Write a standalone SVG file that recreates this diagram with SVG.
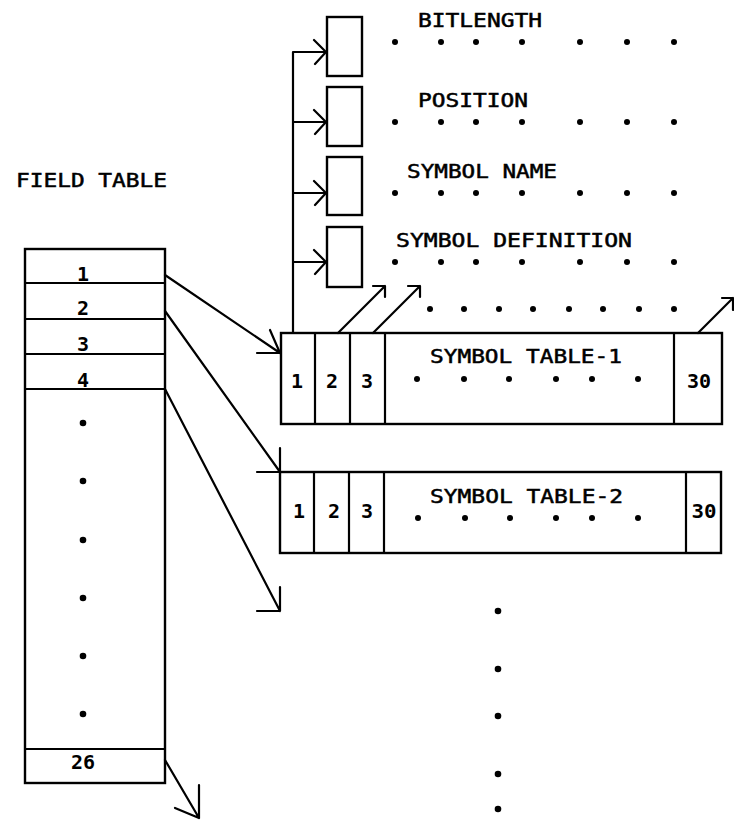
<svg xmlns="http://www.w3.org/2000/svg" width="734" height="821" viewBox="0 0 734 821">
<style>
.ln{fill:none;stroke:#000;stroke-width:2.2;stroke-linecap:round;stroke-linejoin:round}
.bx{fill:#fff;stroke:#000;stroke-width:2.4}
.t{font-family:"DejaVu Sans Mono","Liberation Mono",monospace;font-size:19px;fill:#000;stroke:#000;stroke-width:0.5}
.n{font-family:"DejaVu Sans Mono","Liberation Mono",monospace;font-size:20px;font-weight:bold;fill:#000;text-anchor:middle}
.d{fill:#000}
</style>
<rect width="734" height="821" fill="#fff"/>

<g id="field-table">
<text class="t" x="16" y="187" textLength="151" lengthAdjust="spacingAndGlyphs">FIELD TABLE</text>
<rect class="bx" x="25" y="249" width="140" height="534"/>
<path class="ln" d="M25 283H165M25 319H165M25 354H165M25 389H165M25 749H165"/>
<text class="n" x="83" y="281">1</text>
<text class="n" x="83" y="315">2</text>
<text class="n" x="83" y="351">3</text>
<text class="n" x="83" y="387">4</text>
<text class="n" x="83" y="769">26</text>
<circle class="d" cx="83" cy="423" r="3.3"/>
<circle class="d" cx="83" cy="481" r="3.3"/>
<circle class="d" cx="83" cy="540" r="3.3"/>
<circle class="d" cx="83" cy="598" r="3.3"/>
<circle class="d" cx="83" cy="656" r="3.3"/>
<circle class="d" cx="83" cy="714" r="3.3"/>
</g>

<g id="field-box-1">
<rect class="bx" x="327" y="17" width="35" height="59"/>
<text class="t" x="418" y="27" textLength="124" lengthAdjust="spacingAndGlyphs">BITLENGTH</text>
<g class="d"><circle cx="395" cy="42" r="3"/><circle cx="441" cy="42" r="3"/><circle cx="476" cy="42" r="3"/><circle cx="522" cy="42" r="3"/><circle cx="580" cy="42" r="3"/><circle cx="627" cy="42" r="3"/><circle cx="674" cy="42" r="3"/></g>
</g>
<g id="field-box-2">
<rect class="bx" x="327" y="87" width="35" height="59"/>
<text class="t" x="418" y="107" textLength="110" lengthAdjust="spacingAndGlyphs">POSITION</text>
<g class="d"><circle cx="395" cy="122" r="3"/><circle cx="441" cy="122" r="3"/><circle cx="476" cy="122" r="3"/><circle cx="522" cy="122" r="3"/><circle cx="580" cy="122" r="3"/><circle cx="627" cy="122" r="3"/><circle cx="674" cy="122" r="3"/></g>
</g>
<g id="field-box-3">
<rect class="bx" x="327" y="157" width="35" height="58"/>
<text class="t" x="407" y="178" textLength="150" lengthAdjust="spacingAndGlyphs">SYMBOL NAME</text>
<g class="d"><circle cx="395" cy="193" r="3"/><circle cx="441" cy="193" r="3"/><circle cx="476" cy="193" r="3"/><circle cx="522" cy="193" r="3"/><circle cx="580" cy="193" r="3"/><circle cx="627" cy="193" r="3"/><circle cx="674" cy="193" r="3"/></g>
</g>
<g id="field-box-4">
<rect class="bx" x="327" y="227" width="35" height="60"/>
<text class="t" x="396" y="247" textLength="236" lengthAdjust="spacingAndGlyphs">SYMBOL DEFINITION</text>
<g class="d"><circle cx="395" cy="262" r="3"/><circle cx="441" cy="262" r="3"/><circle cx="476" cy="262" r="3"/><circle cx="522" cy="262" r="3"/><circle cx="580" cy="262" r="3"/><circle cx="627" cy="262" r="3"/><circle cx="674" cy="262" r="3"/></g>
</g>
<g id="field-dots">
<g class="d"><circle cx="430" cy="309" r="3"/><circle cx="464" cy="309" r="3"/><circle cx="499" cy="309" r="3"/><circle cx="533" cy="309" r="3"/><circle cx="569" cy="309" r="3"/><circle cx="603" cy="309" r="3"/><circle cx="639" cy="309" r="3"/><circle cx="674" cy="309" r="3"/></g>
</g>

<g id="symbol-table-1">
<rect class="bx" x="281" y="333" width="441" height="91"/>
<path class="ln" d="M315 333V424M350 333V424M385 333V424M674 333V424"/>
<text class="n" x="297" y="388">1</text>
<text class="n" x="332" y="388">2</text>
<text class="n" x="367" y="388">3</text>
<text class="n" x="699" y="388">30</text>
<text class="t" x="430" y="363" textLength="192" lengthAdjust="spacingAndGlyphs">SYMBOL TABLE-1</text>
<g class="d"><circle cx="417" cy="379" r="3"/><circle cx="464" cy="379" r="3"/><circle cx="509" cy="379" r="3"/><circle cx="556" cy="379" r="3"/><circle cx="592" cy="379" r="3"/><circle cx="638" cy="379" r="3"/></g>
</g>

<g id="symbol-table-2">
<rect class="bx" x="280" y="472" width="441" height="81"/>
<path class="ln" d="M314 472V553M349 472V553M384 472V553M686 472V553"/>
<text class="n" x="299" y="518">1</text>
<text class="n" x="334" y="518">2</text>
<text class="n" x="367" y="518">3</text>
<text class="n" x="704" y="518" textLength="25" lengthAdjust="spacingAndGlyphs">30</text>
<text class="t" x="430" y="503" textLength="193" lengthAdjust="spacingAndGlyphs">SYMBOL TABLE-2</text>
<g class="d"><circle cx="418" cy="518" r="3"/><circle cx="465" cy="518" r="3"/><circle cx="510" cy="518" r="3"/><circle cx="556" cy="518" r="3"/><circle cx="592" cy="518" r="3"/><circle cx="638" cy="518" r="3"/></g>
</g>

<g id="more-tables">
<g class="d"><circle cx="498" cy="611" r="3.3"/><circle cx="498" cy="669" r="3.3"/><circle cx="498" cy="716" r="3.3"/><circle cx="498" cy="774" r="3.3"/><circle cx="498" cy="809" r="3.3"/></g>
</g>

<g id="connectors">
<path class="ln" d="M165 275L280 353M257 353H280M270 330L280 353"/>
<path class="ln" d="M165 311L280 472M257 472H280M280 448V472"/>
<path class="ln" d="M165 389L280 611M257 611H280M280 587V611"/>
<path class="ln" d="M165 760L199 818M199 785V818M175 808L199 818"/>
<path class="ln" d="M293 333V52H326M293 122H326M293 193H326M293 262H326"/>
<path class="ln" d="M314 40L326 52L315 64M314 110L326 122L315 134M314 181L326 193L315 205M314 250L326 262L315 274"/>
<path class="ln" d="M338 333L385 286M373 286H385V297"/>
<path class="ln" d="M373 333L420 286M408 286H420V297"/>
<path class="ln" d="M698 333L733 298M722 298H733V310"/>
</g>
</svg>
